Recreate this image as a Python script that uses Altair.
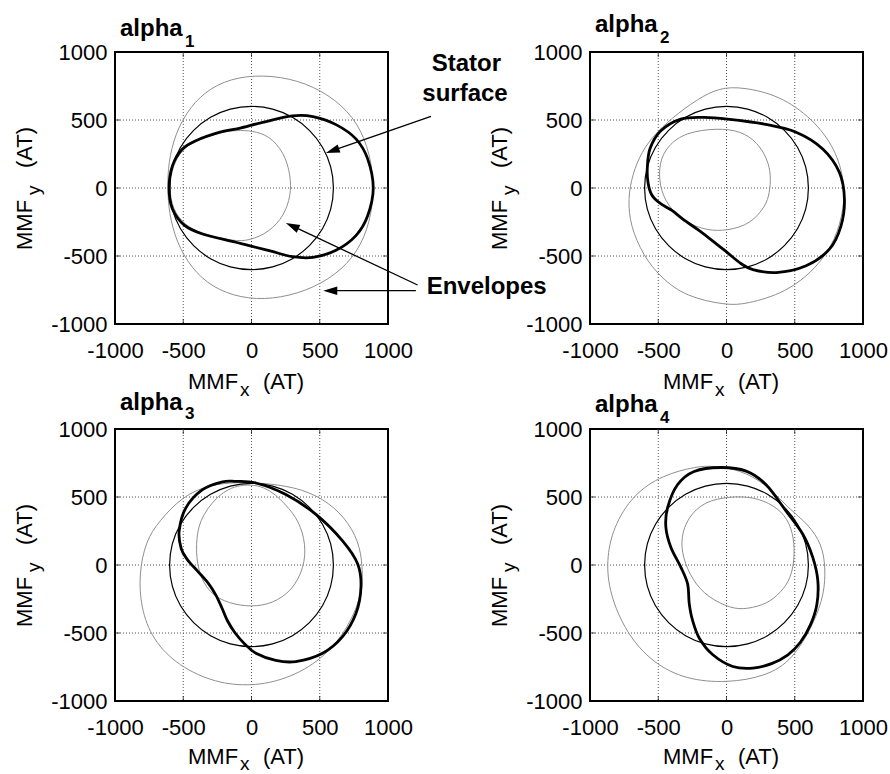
import altair as alt
import pandas as pd

FONT = "Liberation Sans"

# ---------------- data (MMF values in AT) ----------------
tick_values = [-1000, -500, 0, 500, 1000]
grid_values = [-500, 0, 500]
edge_values = [-1000, 1000]

# stator surface (same in every panel)
stator_x = [600, 580, 520, 424, 300, 155, 0, -155, -300, -424, -520, -580, -600, -580, -520, -424, -300, -155, 0, 155, 300, 424, 520, 580]
stator_y = [0, 155, 300, 424, 520, 580, 600, 580, 520, 424, 300, 155, 0, -155, -300, -424, -520, -580, -600, -580, -520, -424, -300, -155]

# panel 1
thick1_x = [-604, -579, -490, -359, -115, 129, 300, 450, 619, 765, 851, 892, 851, 765, 619, 450, 300, 81, -90, -237, -408, -506, -579]
thick1_y = [0, -154, -275, -338, -399, -461, -505, -510, -458, -350, -204, 0, 214, 361, 466, 525, 530, 483, 439, 409, 348, 287, 164]
outer1_x = [900, 870, 780, 620, 400, 150, -100, -300, -450, -560, -610, -615, -605, -550, -440, -290, -80, 150, 400, 620, 780, 870]
outer1_y = [0, 250, 480, 650, 775, 830, 820, 740, 600, 400, 180, 0, -180, -400, -590, -730, -810, -820, -760, -640, -470, -250]
inner1_x = [7, 129, 239, 288, 288, 239, 129, -17, -130, -359, -490, -579, -604, -579, -506, -408, -237, -110]
inner1_y = [421, 385, 262, 91, -56, -203, -326, -387, -392, -338, -275, -154, 0, 164, 287, 348, 409, 425]

# panel 2
thick2_x = [-580, -575, -548, -490, -400, -320, -212, -100, 0, 105, 193, 364, 583, 754, 839, 864, 827, 705, 510, 276, 7, -163, -334, -481, -560]
thick2_y = [150, 40, -50, -110, -165, -229, -305, -390, -470, -555, -600, -622, -572, -450, -278, -81, 115, 287, 410, 470, 507, 519, 507, 421, 290]
outer2_x = [120, -51, -212, -407, -529, -620, -690, -722, -705, -610, -481, -295, -2, 144, 437, 660, 800, 860, 866, 800, 632, 388]
outer2_y = [742, 738, 655, 510, 390, 270, 100, -81, -277, -497, -660, -800, -862, -855, -769, -590, -380, -150, 40, 287, 509, 681]
inner2_x = [-66, 105, 227, 300, 327, 315, 288, 178, 7, -139, -310, -432, -493, -493, -432, -300]
inner2_y = [440, 420, 335, 213, 90, -40, -130, -265, -314, -314, -252, -130, 17, 189, 311, 410]

# panel 3
thick3_x = [-359, -212, -115, 32, 252, 472, 667, 778, 802, 765, 667, 521, 325, 178, 32, -50, -120, -176, -215, -262, -320, -400, -470, -515, -530, -481]
thick3_y = [554, 612, 615, 603, 518, 372, 177, 7, -163, -357, -527, -649, -710, -702, -649, -580, -500, -410, -320, -220, -130, -40, 40, 120, 250, 420]
outer3_x = [-310, -100, 130, 374, 570, 716, 800, 814, 812, 716, 521, 252, 0, -262, -531, -726, -812, -824, -775, -677, -506]
outer3_y = [590, 610, 600, 560, 460, 310, 130, -60, -200, -454, -697, -843, -892, -868, -746, -552, -309, -66, 177, 323, 505]
inner3_x = [-115, 100, 252, 349, 398, 386, 300, 154, 0, -164, -310, -396, -408, -384, -261]
inner3_y = [595, 590, 445, 323, 153, -17, -187, -284, -309, -284, -211, -41, 153, 330, 500]

# panel 4
thick4_x = [-41, 144, 290, 437, 559, 632, 669, 662, 615, 540, 450, 330, 193, 46, -100, -198, -249, -273, -285, -334, -407, -444, -432, -359, -237]
thick4_y = [717, 690, 590, 396, 226, 56, -114, -290, -440, -570, -660, -725, -758, -746, -660, -540, -406, -284, -139, -17, 129, 275, 420, 590, 688]
outer4_x = [-100, 100, 290, 450, 600, 700, 725, 717, 640, 486, 290, 0, -295, -539, -734, -857, -881, -832, -686, -466, -222]
outer4_y = [730, 700, 595, 420, 300, 150, -17, -211, -430, -697, -819, -868, -843, -722, -503, -211, 32, 275, 518, 663, 724]
inner4_x = [32, 200, 350, 450, 495, 498, 470, 400, 300, 150, 32, -139, -249, -322, -334, -285, -163]
inner4_y = [505, 500, 440, 340, 200, 40, -100, -200, -285, -325, -321, -236, -114, 56, 202, 347, 469]

panel_titles = ["alpha", "alpha", "alpha", "alpha"]
panel_subs = ["1", "2", "3", "4"]

# annotations (in panel-1 data units)
ann_text = ["Stator", "surface", "Envelopes"]
ann_x = [1574, 1564, 1723]
ann_y = [862, 642, -779]
arrow_x = [1315, 1217, 1204]
arrow_y = [527, -713, -755]
arrow_x2 = [593, 298, 577]
arrow_y2 = [274, -279, -755]
arrow_angle = [160.7, 205.2, 180]

# ---------------- chart ----------------
W, H = 273, 272
xscale = alt.Scale(domain=[-1000, 1000], nice=False, zero=False)
yscale = alt.Scale(domain=[-1000, 1000], nice=False, zero=False)

x_axis = alt.Axis(values=tick_values, grid=False, ticks=False, tickSize=0, domain=False,
                  labelFontSize=22, labelFont=FONT, labelColor="black", labelPadding=16,
                  labelFlush=False, labelOverlap=False, labelExpr="'' + datum.value", title=None)
y_axis = alt.Axis(values=tick_values, grid=False, ticks=False, tickSize=0, domain=False,
                  labelFontSize=22, labelFont=FONT, labelColor="black", labelPadding=8,
                  labelFlush=False, labelOverlap=False, labelExpr="'' + datum.value", title=None)


def X(field):
    return alt.X(field, scale=xscale, axis=x_axis)


def Y(field):
    return alt.Y(field, scale=yscale, axis=y_axis)


def curve_df(xs, ys):
    return pd.DataFrame({"i": list(range(len(xs))), "x": xs, "y": ys})


def line_layer(xs, ys, color, width, interp):
    return alt.Chart(curve_df(xs, ys)).mark_line(
        color=color, strokeWidth=width, interpolate=interp
    ).encode(x=X("x:Q"), y=Y("y:Q"), order="i:Q")


def text_layer(txt, px, py, size, bold=False, angle=0, align="left"):
    kw = dict(font=FONT, fontSize=size, align=align, baseline="alphabetic", color="black")
    if bold:
        kw["fontWeight"] = "bold"
    if angle:
        kw["angle"] = angle
    return alt.Chart(pd.DataFrame({"t": [txt]})).mark_text(**kw).encode(
        text="t:N", x=alt.value(px), y=alt.value(py)
    )


def tick_layers():
    # small inward ticks on all four sides of the box
    vdf = pd.DataFrame([(g, e) for g in grid_values for e in edge_values], columns=["g", "e"])
    out = []
    for e, off in [(-1000, -2.5), (1000, 2.5)]:
        out.append(
            alt.Chart(vdf[vdf.e == e]).mark_tick(orient="vertical", size=5, thickness=1,
                                                 color="black", yOffset=off).encode(
                x=X("g:Q"), y=Y("e:Q"))
        )
    for e, off in [(-1000, 2.5), (1000, -2.5)]:
        out.append(
            alt.Chart(vdf[vdf.e == e]).mark_tick(orient="horizontal", size=5, thickness=1,
                                                 color="black", xOffset=off).encode(
                y=Y("g:Q"), x=X("e:Q"))
        )
    return out


title_dy = [-16, -20, -18.7, -17]
sub_dy = [-5.3, -8.7, -10.3, -6.3]
xtitle_dy = [65, 65, 63, 63]
xsub_dy = [72, 72, 69, 69]


def make_panel(k, thick, outer, inner, annotate=False):
    gx = alt.Chart(pd.DataFrame({"v": grid_values})).mark_rule(
        color="#555555", strokeDash=[1, 2], strokeWidth=1
    ).encode(x=X("v:Q"))
    gy = alt.Chart(pd.DataFrame({"v": grid_values})).mark_rule(
        color="#555555", strokeDash=[1, 2], strokeWidth=1
    ).encode(y=Y("v:Q"))

    layers = [gx, gy] + tick_layers() + [
        line_layer(outer[0], outer[1], "#8f8f8f", 1, "basis-closed"),
        line_layer(inner[0], inner[1], "#8f8f8f", 1, "basis-closed"),
        line_layer(stator_x, stator_y, "black", 1.2, "cardinal-closed"),
        line_layer(thick[0], thick[1], "black", 2.8, "cardinal-closed"),
        # panel title
        text_layer(panel_titles[k], 5, title_dy[k], 24, bold=True),
        text_layer(panel_subs[k], 70, sub_dy[k], 17, bold=True),
        # x axis title
        text_layer("MMF", 73, H + xtitle_dy[k], 22),
        text_layer("x", 125, H + xsub_dy[k], 19),
        text_layer("(AT)", 148, H + xtitle_dy[k], 22),
        # y axis title
        text_layer("MMF", -83, 198, 22, angle=270),
        text_layer("y", -75, 143, 19, angle=270),
        text_layer("(AT)", -83, 116, 22, angle=270),
    ]

    if annotate:
        adf = pd.DataFrame({"t": ann_text, "x": ann_x, "y": ann_y})
        layers.append(
            alt.Chart(adf).mark_text(font=FONT, fontSize=24, fontWeight="bold", align="center",
                                     baseline="alphabetic", color="black").encode(
                text="t:N", x=X("x:Q"), y=Y("y:Q")
            )
        )
        rdf = pd.DataFrame({"x": arrow_x, "y": arrow_y, "x2": arrow_x2, "y2": arrow_y2, "a": arrow_angle})
        layers.append(
            alt.Chart(rdf).mark_rule(color="black", strokeWidth=1.3).encode(
                x=X("x:Q"), y=Y("y:Q"), x2="x2:Q", y2="y2:Q"
            )
        )
        layers.append(
            alt.Chart(rdf).mark_point(
                shape="M 1 0 L -1 -0.6 L -1 0.6 Z", filled=True, color="black", opacity=1, size=196
            ).encode(
                x=X("x2:Q"), y=Y("y2:Q"),
                angle=alt.Angle("a:Q", scale=None),
            )
        )

    return alt.layer(*layers).properties(width=W, height=H)


p1 = make_panel(0, (thick1_x, thick1_y), (outer1_x, outer1_y), (inner1_x, inner1_y), annotate=True)
p2 = make_panel(1, (thick2_x, thick2_y), (outer2_x, outer2_y), (inner2_x, inner2_y))
p3 = make_panel(2, (thick3_x, thick3_y), (outer3_x, outer3_y), (inner3_x, inner3_y))
p4 = make_panel(3, (thick4_x, thick4_y), (outer4_x, outer4_y), (inner4_x, inner4_y))

chart = alt.concat(p1, p2, p3, p4, columns=2, spacing={"row": 105, "column": 202}).properties(
    bounds="flush",
    padding={"left": 13, "top": 12, "right": 0, "bottom": 0},
    background="white",
).configure(font=FONT).configure_view(stroke="black", strokeWidth=2)

chart.save("out.html", embed_options={"renderer": "svg", "actions": False})
